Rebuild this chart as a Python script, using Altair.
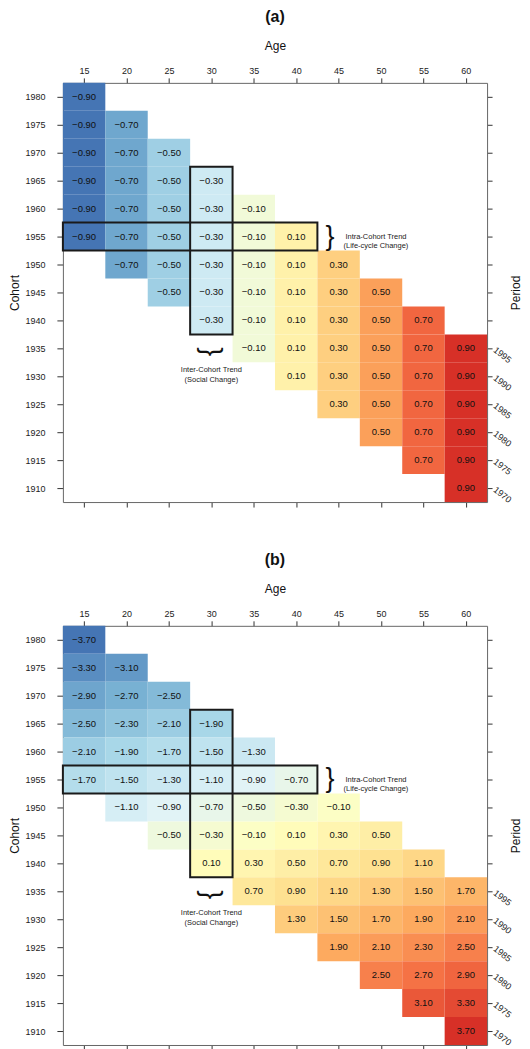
import altair as alt
import pandas as pd

# ---------------- data ----------------
ages = [15, 20, 25, 30, 35, 40, 45, 50, 55, 60]
cohorts = [1980, 1975, 1970, 1965, 1960, 1955, 1950, 1945, 1940, 1935,
           1930, 1925, 1920, 1915, 1910]
first_age = [15, 15, 15, 15, 15, 15, 20, 25, 30, 35, 40, 45, 50, 55, 60]

a_values = [
    [-0.90],
    [-0.90, -0.70],
    [-0.90, -0.70, -0.50],
    [-0.90, -0.70, -0.50, -0.30],
    [-0.90, -0.70, -0.50, -0.30, -0.10],
    [-0.90, -0.70, -0.50, -0.30, -0.10, 0.10],
    [-0.70, -0.50, -0.30, -0.10, 0.10, 0.30],
    [-0.50, -0.30, -0.10, 0.10, 0.30, 0.50],
    [-0.30, -0.10, 0.10, 0.30, 0.50, 0.70],
    [-0.10, 0.10, 0.30, 0.50, 0.70, 0.90],
    [0.10, 0.30, 0.50, 0.70, 0.90],
    [0.30, 0.50, 0.70, 0.90],
    [0.50, 0.70, 0.90],
    [0.70, 0.90],
    [0.90],
]

b_values = [
    [-3.70],
    [-3.30, -3.10],
    [-2.90, -2.70, -2.50],
    [-2.50, -2.30, -2.10, -1.90],
    [-2.10, -1.90, -1.70, -1.50, -1.30],
    [-1.70, -1.50, -1.30, -1.10, -0.90, -0.70],
    [-1.10, -0.90, -0.70, -0.50, -0.30, -0.10],
    [-0.50, -0.30, -0.10, 0.10, 0.30, 0.50],
    [0.10, 0.30, 0.50, 0.70, 0.90, 1.10],
    [0.70, 0.90, 1.10, 1.30, 1.50, 1.70],
    [1.30, 1.50, 1.70, 1.90, 2.10],
    [1.90, 2.10, 2.30, 2.50],
    [2.50, 2.70, 2.90],
    [3.10, 3.30],
    [3.70],
]

panel_titles = ["(a)", "(b)"]

# trend boxes (age range, cohort range)
box_age_lo = [15, 30]
box_age_hi = [40, 30]
box_coh_lo = [1955, 1940]
box_coh_hi = [1955, 1965]

# annotations
brace_labels = ["}", "}"]
brace_age = [44.0, 30.0]
brace_coh = [1955.0, 1934.4]
brace_angle = [0, 90]
note_labels = ["Intra-Cohort Trend\n(Life-cycle Change)",
               "Inter-Cohort Trend\n(Social Change)"]
note_age = [49.4, 30.0]
note_coh = [1955.0, 1931.1]

palette = ["#4575b4", "#74add1", "#abd9e9", "#e0f3f8", "#ffffbf",
           "#fee090", "#fdae61", "#f46d43", "#d73027"]

FONT = "Liberation Sans"
W, H = 425, 420

xs = alt.Scale(domain=[12.5, 62.5], nice=False, zero=False)
ys = alt.Scale(domain=[1907.5, 1982.5], nice=False, zero=False)


def cells(values):
    rows = []
    for c, a0, vals in zip(cohorts, first_age, values):
        for k, v in enumerate(vals):
            rows.append({"cohort": c, "age": a0 + 5 * k, "value": v})
    return pd.DataFrame(rows)


box_df = pd.DataFrame({"age_lo": box_age_lo, "age_hi": box_age_hi,
                       "coh_lo": box_coh_lo, "coh_hi": box_coh_hi})
brace_df = pd.DataFrame({"label": brace_labels, "age": brace_age,
                         "cohort": brace_coh, "angle": brace_angle})
note_df = pd.DataFrame({"label": note_labels, "age": note_age,
                        "cohort": note_coh})


def panel(values, title):
    df = cells(values)
    M = max(abs(v) for row in values for v in row)
    stops = [round(-M + 2 * M * i / 8, 6) for i in range(9)]

    rect = alt.Chart(df).transform_calculate(
        a0="datum.age - 2.5", a1="datum.age + 2.5",
        c0="datum.cohort - 2.5", c1="datum.cohort + 2.5",
    ).mark_rect().encode(
        x=alt.X("a0:Q", scale=xs,
                axis=alt.Axis(orient="top", values=ages, title="Age",
                              tickSize=5, labelPadding=2, titlePadding=14)),
        x2="a1:Q",
        y=alt.Y("c0:Q", scale=ys,
                axis=alt.Axis(orient="left", values=cohorts, title="Cohort",
                              format="d", tickSize=6, labelPadding=12,
                              titlePadding=3)),
        y2="c1:Q",
        color=alt.Color("value:Q",
                        scale=alt.Scale(domain=stops, range=palette,
                                        interpolate="rgb"),
                        legend=None),
    )

    text = alt.Chart(df).mark_text(font=FONT, fontSize=9.5, color="#111").encode(
        x=alt.X("age:Q", scale=xs,
                axis=alt.Axis(orient="bottom", values=ages, labels=False,
                              title=None, tickSize=5)),
        y=alt.Y("cohort:Q", scale=ys,
                axis=alt.Axis(orient="right", values=cohorts,
                              labelExpr="datum.value <= 1935 ? '' + (datum.value + 60) : ''",
                              labelAngle=38, labelAlign="left",
                              labelBaseline="middle", labelPadding=2,
                              tickSize=5, title="Period", titleAngle=-90,
                              titlePadding=10)),
        text=alt.Text("value:Q", format=".2f"),
    )

    boxes = alt.Chart(box_df).transform_calculate(
        a0="datum.age_lo - 2.5", a1="datum.age_hi + 2.5",
        c0="datum.coh_lo - 2.5", c1="datum.coh_hi + 2.5",
    ).mark_rect(fillOpacity=0, stroke="#1a1a1a", strokeWidth=2).encode(
        x=alt.X("a0:Q", scale=xs, axis=None), x2="a1:Q",
        y=alt.Y("c0:Q", scale=ys, axis=None), y2="c1:Q",
    )

    braces = alt.Chart(brace_df).mark_text(
        font=FONT, fontSize=27, color="#111", baseline="middle", align="center"
    ).encode(
        x=alt.X("age:Q", scale=xs, axis=None),
        y=alt.Y("cohort:Q", scale=ys, axis=None),
        text="label:N",
        angle=alt.Angle("angle:Q", scale=None),
    )

    notes = alt.Chart(note_df).mark_text(
        font=FONT, fontSize=7.5, color="#222", lineBreak="\n", lineHeight=9.5,
        baseline="middle", align="center"
    ).encode(
        x=alt.X("age:Q", scale=xs, axis=None),
        y=alt.Y("cohort:Q", scale=ys, axis=None),
        text="label:N",
    )

    return alt.layer(rect, text, boxes, braces, notes).resolve_axis(
        x="independent", y="independent"
    ).properties(
        width=W, height=H,
        title=alt.TitleParams(title, fontSize=16, fontWeight="bold",
                              font=FONT, anchor="middle", frame="group",
                              offset=15, color="#111"),
    )


chart = alt.vconcat(
    panel(a_values, panel_titles[0]),
    panel(b_values, panel_titles[1]),
    spacing=44,
).resolve_scale(color="independent").properties(
    padding={"left": 0, "top": 0, "right": 0, "bottom": 0}
).configure_view(stroke=None).configure_axis(
    labelFont=FONT, titleFont=FONT, labelFontSize=9, titleFontSize=12,
    titleFontWeight="normal", labelColor="#222", titleColor="#111",
    domainColor="#666", tickColor="#333", grid=False,
)

chart.save("out.html", embed_options={"renderer": "svg", "actions": False})
